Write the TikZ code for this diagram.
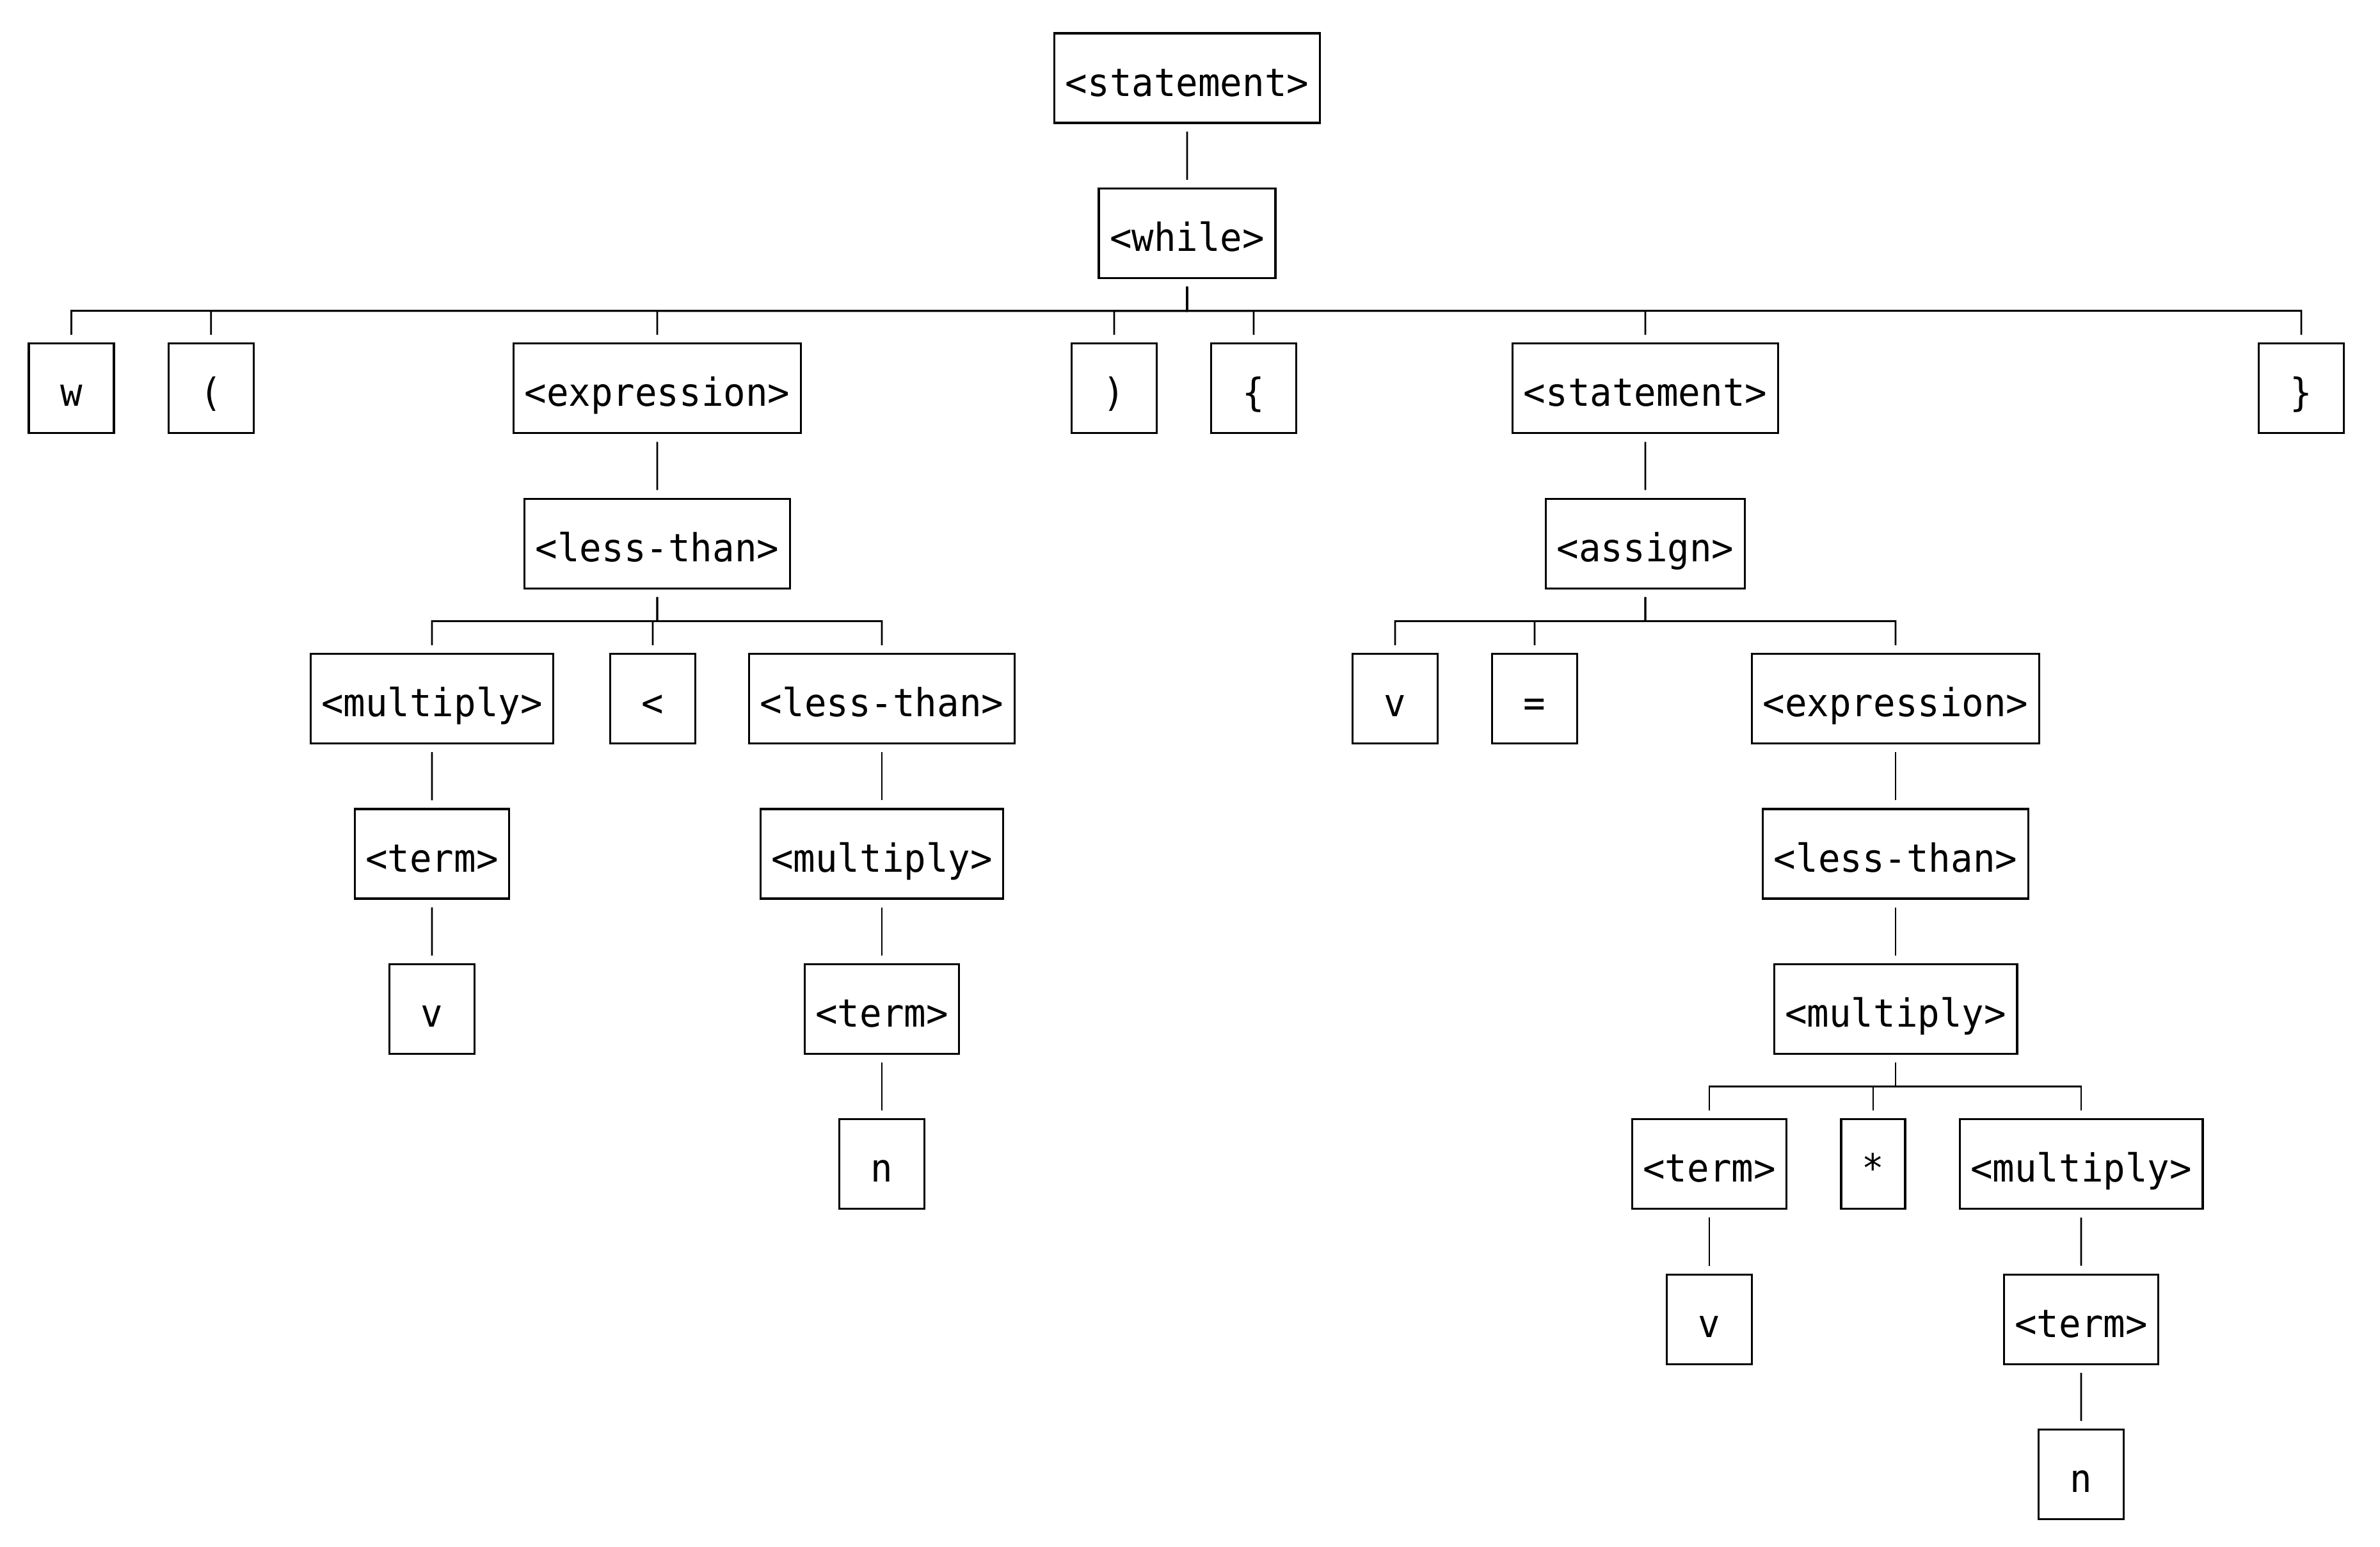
\documentclass[tikz,border=0pt]{standalone}
\usepackage{fontspec}
\setmonofont{DejaVu Sans Mono}[FakeStretch=0.95]
\usetikzlibrary{calc}

\begin{document}
\begin{tikzpicture}[
  sym/.style={draw, line width=0.9pt, minimum width=1.33cm, minimum height=1.4cm, inner xsep=0.17cm,
    text height=0.56cm, text depth=0pt, font=\ttfamily\fontsize{17.2}{20}\selectfont},
  link/.style={line width=0.8pt}
]
  \useasboundingbox (0,0) rectangle (37.19,-24.16);

  % Top
  \node[sym] (stmt) at (18.55, -1.22) {<statement>};
  \node[sym] (while) at (18.55, -3.644) {<while>};

  % While parts
  \node[sym] (w) at (1.115, -6.068) {w};
  \node[sym] (lpar) at (3.297, -6.068) {(};
  \node[sym] (expr) at (10.27, -6.068) {<expression>};
  \node[sym] (rpar) at (17.41, -6.068) {)};
  \node[sym] (lbrace) at (19.59, -6.068) {\{};
  \node[sym] (body) at (25.71, -6.068) {<statement>};
  \node[sym] (rbrace) at (35.96, -6.068) {\}};

  % Condition
  \node[sym] (lt) at (10.27, -8.492) {<less-than>};
  \node[sym] (mul) at (6.75, -10.916) {<multiply>};
  \node[sym] (lessop) at (10.20, -10.916) {<};
  \node[sym] (lt2) at (13.78, -10.916) {<less-than>};
  \node[sym] (term) at (6.75, -13.34) {<term>};
  \node[sym] (mul2) at (13.78, -13.34) {<multiply>};
  \node[sym] (v1) at (6.75, -15.764) {v};
  \node[sym] (term2) at (13.78, -15.764) {<term>};
  \node[sym] (n1) at (13.78, -18.188) {n};

  % Body
  \node[sym] (assign) at (25.71, -8.492) {<assign>};
  \node[sym] (v2) at (21.80, -10.916) {v};
  \node[sym] (eq) at (23.98, -10.916) {=};
  \node[sym] (expr2) at (29.62, -10.916) {<expression>};
  \node[sym] (lt3) at (29.62, -13.34) {<less-than>};
  \node[sym] (mul3) at (29.62, -15.764) {<multiply>};
  \node[sym] (term3) at (26.71, -18.188) {<term>};
  \node[sym, minimum width=1.0cm] (star) at (29.27, -18.188) {*};
  \node[sym] (mul4) at (32.52, -18.188) {<multiply>};
  \node[sym] (v3) at (26.71, -20.612) {v};
  \node[sym] (term4) at (32.52, -20.612) {<term>};
  \node[sym] (n2) at (32.52, -23.036) {n};

  % Branches
  \foreach \p/\c in {stmt/while, while/w, while/lpar, while/expr, while/rpar, while/lbrace,
      while/body, while/rbrace, expr/lt, lt/mul, lt/lessop, lt/lt2, mul/term, term/v1,
      lt2/mul2, mul2/term2, term2/n1, body/assign, assign/v2, assign/eq, assign/expr2,
      expr2/lt3, lt3/mul3, mul3/term3, mul3/star, mul3/mul4, term3/v3, mul4/term4, term4/n2}
    \draw[link] ([yshift=-1.2mm]\p.south) -- ($(\p.south)!.5!(\p.south|-\c.north)$)
      -| ([yshift=1.2mm]\c.north);
\end{tikzpicture}
\end{document}
